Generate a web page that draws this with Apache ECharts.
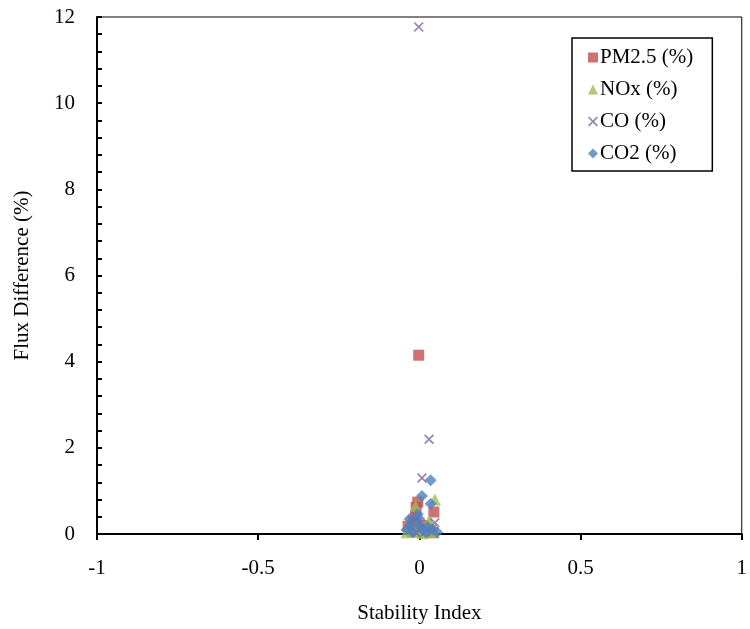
<!DOCTYPE html>
<html>
<head>
<meta charset="utf-8">
<script src="https://cdn.jsdelivr.net/npm/echarts@6/dist/echarts.min.js"></script>
<style>
html,body{margin:0;padding:0;background:#fff;}
#chart{width:750px;height:629px;}
</style>
</head>
<body>
<div id="chart"></div>
<script>
// Series data: [stability index, flux difference %]
var pm25 = [[-0.002,4.15],[-0.005,0.74],[0.045,0.51],[-0.01,0.62],[-0.02,0.30],[-0.035,0.18],[-0.02,0.05],[0.0,0.10],[0.02,0.08],[0.04,0.03],[0.01,0.20],[-0.012,0.42]];
var nox  = [[0.048,0.80],[-0.012,0.65],[0.035,0.23],[0.0,0.05],[0.02,0.10],[-0.01,0.15],[0.04,0.08],[0.03,0.30],[0.01,0.02],[0.045,0.04],[-0.04,0.04]];
var co   = [[-0.002,11.77],[0.03,2.2],[0.008,1.3],[0.048,0.26],[0.02,0.05],[0.0,0.10],[0.04,0.12],[-0.01,0.03]];
var co2  = [[0.035,1.25],[0.008,0.88],[0.035,0.70],[-0.005,0.46],[-0.03,0.35],[-0.005,0.23],[0.01,0.10],[0.026,0.16],[0.04,0.10],[-0.04,0.10],[-0.02,0.04],[0.02,0.04],[0.055,0.04],[0.0,0.35],[-0.028,0.20]];
var seriesNames = ['PM2.5 (%)','NOx (%)','CO (%)','CO2 (%)'];
var xTicks = [-1,-0.5,0,0.5,1];
var yTicks = [0,2,4,6,8,10,12];

var crossPath = 'path://M0,1.2L1.2,0L5,3.8L8.8,0L10,1.2L6.2,5L10,8.8L8.8,10L5,6.2L1.2,10L0,8.8L3.8,5Z';
var font = 'Liberation Serif';

var chart = echarts.init(document.getElementById('chart'));
chart.setOption({
  animation: false,
  textStyle: {fontFamily: font},
  grid: {left: 97, right: 4, top: 17, bottom: 88, show: true, borderColor: '#000', borderWidth: 1, backgroundColor: 'transparent'},
  legend: {
    orient: 'vertical', left: 572, top: 38,
    padding: [9, 19, 7, 16], itemGap: 11, itemWidth: 10, itemHeight: 10,
    borderColor: '#000', borderWidth: 1.5,
    textStyle: {fontFamily: font, fontSize: 21, color: '#000', padding: [0,0,0,-3]},
    data: seriesNames
  },
  xAxis: {
    type: 'value', min: -1, max: 1, interval: 0.5,
    axisLine: {onZero: false, lineStyle: {color: '#000', width: 2}},
    axisTick: {show: true, inside: false, length: 6, lineStyle: {color: '#000', width: 2}},
    splitLine: {show: false},
    axisLabel: {margin: 24, fontSize: 21, color: '#000', fontFamily: font,
      formatter: function(v){ return xTicks.indexOf(v) >= 0 ? String(v) : ''; }},
    name: 'Stability Index', nameLocation: 'middle', nameGap: 69,
    nameTextStyle: {fontSize: 21, color: '#000', fontFamily: font}
  },
  yAxis: {
    type: 'value', min: 0, max: 12, interval: 2,
    axisLine: {onZero: false, lineStyle: {color: '#000', width: 2}},
    axisTick: {show: true, inside: true, length: 5, lineStyle: {color: '#000', width: 2}},
    minorTick: {show: true, splitNumber: 5, length: 5, lineStyle: {color: '#000', width: 2}},
    splitLine: {show: false},
    axisLabel: {margin: 22, fontSize: 21, color: '#000', fontFamily: font,
      formatter: function(v){ return yTicks.indexOf(v) >= 0 ? String(v) : ''; }},
    name: 'Flux Difference (%)', nameLocation: 'middle', nameGap: 64,
    nameTextStyle: {fontSize: 21, color: '#000', fontFamily: font}
  },
  series: [
    {name: seriesNames[0], type: 'scatter', data: pm25, symbol: 'rect', symbolSize: 11, itemStyle: {color: '#C0504D'}},
    {name: seriesNames[1], type: 'scatter', data: nox, symbol: 'triangle', symbolSize: 12, itemStyle: {color: '#9BBB59'}},
    {name: seriesNames[2], type: 'scatter', data: co, symbol: crossPath, symbolSize: 10, itemStyle: {color: '#8064A2'}},
    {name: seriesNames[3], type: 'scatter', data: co2, symbol: 'diamond', symbolSize: 12, itemStyle: {color: '#4F81BD'}}
  ]
});
</script>
</body>
</html>
